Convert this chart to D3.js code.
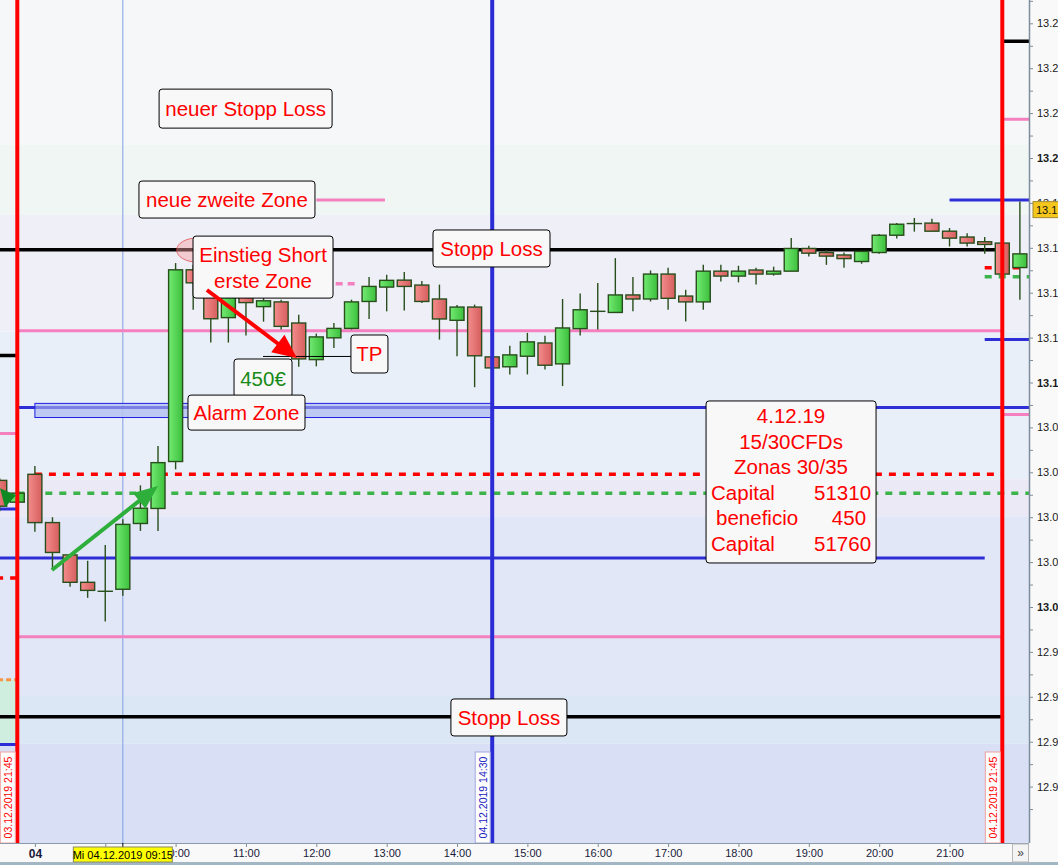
<!DOCTYPE html>
<html><head><meta charset="utf-8">
<script src="https://cdn.jsdelivr.net/npm/d3@7/dist/d3.min.js"></script>
<style>
body{margin:0;background:#fff;overflow:hidden}
svg{display:block;font-family:"Liberation Sans",Arial,sans-serif}
</style></head><body>
<svg id="c" width="1058" height="865"></svg>
<script>
// ---------------- DATA ----------------
// 15-minute candles, index -1 = 03.12 21:30, 0 = 03.12 21:45, 1 = 04.12 08:00 ... 56 = 04.12 21:45, 57 = 22:00
const firstIndex = -1;
const opens  = [13.0564,13.0467,13.0591,13.0376,13.0232,13.0110,13.0070,13.0079,13.0372,13.0439,13.0648,13.1502,13.1400,13.1289,13.1387,13.1338,13.1359,13.1265,13.1102,13.1199,13.1241,13.1361,13.1425,13.1456,13.1434,13.1372,13.1277,13.1336,13.1114,13.1070,13.1117,13.1176,13.1083,13.1240,13.1317,13.1312,13.1390,13.1372,13.1483,13.1385,13.1359,13.1496,13.1474,13.1501,13.1483,13.1496,13.1597,13.1579,13.1568,13.1539,13.1579,13.1656,13.1708,13.1710,13.1674,13.1648,13.1627,13.1621,13.1512];
const highs  = [13.0573,13.0516,13.0628,13.0400,13.0232,13.0206,13.0276,13.0391,13.0542,13.0717,13.1532,13.1524,13.1436,13.1436,13.1418,13.1387,13.1369,13.1302,13.1218,13.1265,13.1369,13.1470,13.1480,13.1492,13.1452,13.1436,13.1345,13.1347,13.1138,13.1164,13.1221,13.1208,13.1372,13.1396,13.1443,13.1554,13.1470,13.1499,13.1511,13.1413,13.1524,13.1524,13.1520,13.1511,13.1516,13.1644,13.1609,13.1591,13.1579,13.1584,13.1662,13.1710,13.1733,13.1729,13.1688,13.1665,13.1648,13.1636,13.1806];
const lows   = [13.0427,13.0458,13.0335,13.0166,13.0090,13.0041,12.9935,13.0050,13.0339,13.0339,13.0613,13.1324,13.1178,13.1178,13.1209,13.1271,13.1236,13.1070,13.1072,13.1154,13.1236,13.1283,13.1317,13.1321,13.1354,13.1191,13.1117,13.0979,13.1049,13.1036,13.1036,13.1058,13.0984,13.1209,13.1236,13.1312,13.1317,13.1361,13.1324,13.1272,13.1324,13.1450,13.1446,13.1436,13.1476,13.1496,13.1561,13.1524,13.1511,13.1529,13.1573,13.1641,13.1672,13.1674,13.1606,13.1606,13.1573,13.1476,13.1369];
const closes = [13.0449,13.0507,13.0376,13.0243,13.0110,13.0074,13.0070,13.0368,13.0440,13.0643,13.1502,13.1444,13.1284,13.1404,13.1356,13.1364,13.1250,13.1105,13.1203,13.1241,13.1359,13.1428,13.1455,13.1428,13.1361,13.1283,13.1336,13.1119,13.1065,13.1123,13.1181,13.1077,13.1243,13.1324,13.1317,13.1390,13.1372,13.1483,13.1375,13.1359,13.1496,13.1474,13.1496,13.1483,13.1496,13.1597,13.1576,13.1563,13.1552,13.1584,13.1656,13.1705,13.1708,13.1674,13.1643,13.1621,13.1615,13.1483,13.1573];
const lastPrice = 13.177;

// time axis
const timeTickIndex  = [1,5,9,13,17,21,25,29,33,37,41,45,49,53];
const timeTickLabels = ["04","09:00","10:00","11:00","12:00","13:00","14:00","15:00","16:00","17:00","18:00","19:00","20:00","21:00"];
const crosshairIndex = 6;
const crosshairLabel = "Mi 04.12.2019 09:15";

// price axis
const priceTicks = [13.26,13.24,13.22,13.20,13.18,13.16,13.14,13.12,13.10,13.08,13.06,13.04,13.02,13.00,12.98,12.96,12.94,12.92];
const priceBold  = [13.20,13.10,13.00];

// background zones (price edges, top to bottom)
const zoneEdges = [13.2058,13.1747,13.1227,13.0569,13.0404,12.9604,12.9391];

// horizontal lines: level, start index, end index, kind
const lineLevels = [13.252,13.2173,13.1813,13.1813,13.1591,13.1511,13.1471,13.1440,13.1231,13.1191,13.1120,13.0889,13.0858,13.0773,13.0591,13.0507,13.0436,13.0218,13.0129,12.9867,12.9676,12.9511,12.9387];
const lineFrom   = [56,56,53,17,-2,55,55,18.1,0,55,-2,0,56,-2,1,0,-2,-2,-2,0,-2,-2,-2];
const lineTo     = [58,58,58,20.9,56,57.3,58,19.4,56,58,0,58,58,0,56,58,0,55,0,56,0,56,0];
const lineKind   = ["black","pink","blue","pink","black","redDash","greenDash","pinkDash","pink","blue","black","blue","pink","pink","redDash","greenDash","blue","blue","redDash","pink","orangeDash","black","blue"];

// vertical markers
const vIndex  = [0,27,56];
const vKind   = ["red","blue","red"];
const vLabels = ["03.12.2019 21:45","04.12.2019 14:30","04.12.2019 21:45"];

// zones
const alarmZone = {from:1, to:27, hi:13.0907, lo:13.0844};
const leftZone  = {from:-2, to:0, hi:12.9676, lo:12.9387};

// annotations: text lines, centre (index, price), box size
const annoText  = [["neuer Stopp Loss"],["neue zweite Zone"],["Einstieg Short","erste Zone"],["Stopp Loss"],["TP"],["450€"],["Alarm Zone"],["Stopp Loss"]];
const annoIdx   = [12.98,11.92,13.97,26.96,20.02,13.97,13.03,27.95];
const annoPrice = [13.2220,13.1815,13.1514,13.1597,13.1127,13.1020,13.0866,12.9508];
const annoW     = [173,176,140,117,37,58,117,116];
const annoH     = [39,37,62,37,38,38,35,37];
const annoGreen = [false,false,false,false,false,true,false,false];

const infoCentre = [43.99,13.0557];
const infoTitle  = ["4.12.19","15/30CFDs","Zonas 30/35"];
const infoRows   = [["Capital","51310"],["beneficio","450"],["Capital","51760"]];

// arrows (index, price)
const redArrow   = [[10.78,13.1412],[15.9,13.1109]];
const greenArrow = [[1.97,13.0165],[8.0,13.0539]];
const tpLine     = [[13.97,13.1116],[18.97,13.1116]];
const entryEllipse = [10.2,13.1590];
const leftArrowHead = [[-0.98,13.0529],[-0.07,13.0498],[-0.7,13.0444]];

// ---------------- LAYOUT / STYLE ----------------
const W=1058, H=865, PR=1029, PB=843;
const zoneColors = ["#f6f7f8","#f0f6f4","#efeff8","#e9eff8","#ebe9f6","#e1e7f6","#dce7f5","#d9e0f6"];
const lineStyle = {
  black:{c:"#000",w:3.5,d:null},
  pink:{c:"#f580c0",w:3,d:null},
  blue:{c:"#2e2ed6",w:3,d:null},
  redDash:{c:"#ff0000",w:3.5,d:"7,7"},
  greenDash:{c:"#3cb44a",w:3.5,d:"7,7"},
  pinkDash:{c:"#f580c0",w:3.5,d:"7,5"},
  orangeDash:{c:"#f79646",w:3,d:"5,3"}
};
const vStyle = {red:{c:"#ff0000",lab:"#ff0000",box:"#f0a0a0"}, blue:{c:"#2c2cd4",lab:"#2020c0",box:"#a0a8e0"}};

const x = d3.scaleLinear().domain([0,56]).range([17.3,1002.3]);
const y = d3.scaleLinear().domain([13.20,13.00]).range([158,607]);

const svg = d3.select("#c");
const defs = svg.append("defs");
defs.append("clipPath").attr("id","plot").append("rect").attr("x",0).attr("y",0).attr("width",PR).attr("height",PB);
function grad(id,c1,c2){const g=defs.append("linearGradient").attr("id",id).attr("x1","0").attr("x2","1").attr("y1","0").attr("y2","0");
 g.append("stop").attr("offset","0").attr("stop-color",c1); g.append("stop").attr("offset","1").attr("stop-color",c2);}
grad("gUp","#72ea72","#3cbf3c");
grad("gDn","#f48c8c","#d65e5e");

const plot = svg.append("g").attr("clip-path","url(#plot)");

// background zones
const zoneBounds = [0, ...zoneEdges.map(p=>y(p)), PB];
plot.selectAll("rect.zone").data(zoneColors).join("rect").attr("class","zone")
  .attr("x",0).attr("width",PR)
  .attr("y",(d,i)=>zoneBounds[i]).attr("height",(d,i)=>zoneBounds[i+1]-zoneBounds[i])
  .attr("fill",d=>d);

// left green zone
plot.append("rect").attr("x",x(leftZone.from)).attr("width",x(leftZone.to)-x(leftZone.from))
  .attr("y",y(leftZone.hi)).attr("height",y(leftZone.lo)-y(leftZone.hi)).attr("fill","#cfeee0");

// crosshair
plot.append("line").attr("x1",x(crosshairIndex)).attr("x2",x(crosshairIndex)).attr("y1",0).attr("y2",PB)
  .attr("stroke","#7f9ee2").attr("stroke-width",1);

// horizontal lines
lineLevels.forEach((p,i)=>{
  const s=lineStyle[lineKind[i]];
  plot.append("line").attr("x1",x(lineFrom[i])).attr("x2",x(lineTo[i])).attr("y1",y(p)).attr("y2",y(p))
    .attr("stroke",s.c).attr("stroke-width",s.w).attr("stroke-dasharray",s.d);
});

// alarm zone rectangle
plot.append("rect").attr("x",x(alarmZone.from)).attr("width",x(alarmZone.to)-x(alarmZone.from))
  .attr("y",y(alarmZone.hi)).attr("height",y(alarmZone.lo)-y(alarmZone.hi))
  .attr("fill","#b6c2f2").attr("fill-opacity",0.85).attr("stroke","#1e1ee6").attr("stroke-width",1);
plot.append("line").attr("x1",x(0)).attr("x2",x(58)).attr("y1",y(13.0889)).attr("y2",y(13.0889))
  .attr("stroke","#2e2ed6").attr("stroke-width",3).attr("opacity",0.35);

// candles
const candles = opens.map((o,i)=>({i:i+firstIndex,o,h:highs[i],l:lows[i],c:closes[i]}));
const cg = plot.append("g");
cg.selectAll("line.wick").data(candles).join("line")
  .attr("x1",d=>x(d.i)).attr("x2",d=>x(d.i)).attr("y1",d=>y(d.h)).attr("y2",d=>y(d.l))
  .attr("stroke","#284e1c").attr("stroke-width",1.4);
cg.selectAll("rect.body").data(candles).join("rect")
  .attr("x",d=>x(d.i)-7).attr("width",14)
  .attr("y",d=>y(Math.max(d.o,d.c))).attr("height",d=>Math.max(0.01,Math.abs(y(d.o)-y(d.c))))
  .attr("fill",d=>d.c>d.o?"url(#gUp)":(d.c<d.o?"url(#gDn)":"#284e1c"))
  .attr("stroke","#284e1c").attr("stroke-width",1.4);

// vertical lines
vIndex.forEach((v,i)=>{
  const s=vStyle[vKind[i]];
  plot.append("line").attr("x1",x(v)).attr("x2",x(v)).attr("y1",0).attr("y2",PB)
    .attr("stroke",s.c).attr("stroke-width",4);
  const bx = x(v)-17;
  plot.append("rect").attr("x",bx).attr("y",752).attr("width",15).attr("height",PB-752)
    .attr("fill","#fdfdfd").attr("stroke",s.box).attr("stroke-width",1);
  plot.append("text").attr("transform",`translate(${bx+7.5},${797.5}) rotate(-90)`)
    .attr("text-anchor","middle").attr("dominant-baseline","central")
    .attr("font-size",10.5).attr("fill",s.lab).text(vLabels[i]);
});

// left arrowhead
plot.append("polygon").attr("points",leftArrowHead.map(d=>[x(d[0]),y(d[1])].join(",")).join(" "))
  .attr("fill","#0f8a22");

// ellipse
plot.append("ellipse").attr("cx",x(entryEllipse[0])).attr("cy",y(entryEllipse[1])).attr("rx",20).attr("ry",12)
  .attr("fill","#f4a0a0").attr("fill-opacity",0.45).attr("stroke","#e04040").attr("stroke-opacity",0.7);

// arrows
function arrow(pts,color,hl,hw){
  const [a,b]=pts.map(d=>[x(d[0]),y(d[1])]);
  const dx=b[0]-a[0], dy=b[1]-a[1], L=Math.hypot(dx,dy), ux=dx/L, uy=dy/L;
  const bx=b[0]-ux*hl, by=b[1]-uy*hl;
  plot.append("line").attr("x1",a[0]).attr("y1",a[1]).attr("x2",bx+ux*2).attr("y2",by+uy*2)
    .attr("stroke",color).attr("stroke-width",4);
  plot.append("polygon").attr("points",[[b[0],b[1]],[bx-uy*hw/2,by+ux*hw/2],[bx+uy*hw/2,by-ux*hw/2]].map(p=>p.join(",")).join(" "))
    .attr("fill",color);
}
arrow(greenArrow,"#2eae3a",24,20);

// TP line
plot.append("line").attr("x1",x(tpLine[0][0])).attr("x2",x(tpLine[1][0])).attr("y1",y(tpLine[0][1])).attr("y2",y(tpLine[1][1]))
  .attr("stroke","#000").attr("stroke-width",1);

// annotation boxes
function box(cx,cy,w,h){
  return plot.append("rect").attr("x",cx-w/2).attr("y",cy-h/2).attr("width",w).attr("height",h)
    .attr("rx",3).attr("fill","#f8f8f8").attr("stroke","#000").attr("stroke-width",1);
}
annoText.forEach((lines,i)=>{
  const cx=x(annoIdx[i]), cy=y(annoPrice[i]);
  box(cx,cy,annoW[i],annoH[i]);
  const n=lines.length, step=26;
  lines.forEach((t,j)=>{
    plot.append("text").attr("x",cx).attr("y",cy+(j-(n-1)/2)*step)
      .attr("text-anchor","middle").attr("dominant-baseline","central")
      .attr("font-size",20.5).attr("fill",annoGreen[i]?"#178a17":"#ff0000").text(t);
  });
});
arrow(redArrow,"#ff0000",24,22);

// info box
{
  const cx=x(infoCentre[0]), cy=y(infoCentre[1]), w=170, h=162;
  box(cx,cy,w,h);
  const top=cy-h/2+15, step=25.5;
  infoTitle.forEach((t,j)=>plot.append("text").attr("x",cx).attr("y",top+j*step)
    .attr("text-anchor","middle").attr("dominant-baseline","central").attr("font-size",20.5).attr("fill","#ff0000").text(t));
  infoRows.forEach((r,j)=>{
    const yy=top+(j+3)*step, inset = j===1?10:5;
    plot.append("text").attr("x",cx-w/2+inset).attr("y",yy).attr("dominant-baseline","central")
      .attr("font-size",20.5).attr("fill","#ff0000").text(r[0]);
    plot.append("text").attr("x",cx+w/2-inset).attr("y",yy).attr("text-anchor","end").attr("dominant-baseline","central")
      .attr("font-size",20.5).attr("fill","#ff0000").text(r[1]);
  });
}

// ---------------- AXES ----------------
// right price axis
svg.append("rect").attr("x",PR).attr("y",0).attr("width",W-PR).attr("height",PB).attr("fill","#f9f9f9");
const minor = d3.pairs(priceTicks).map(([a,b])=>(a+b)/2).concat([13.27,12.91]);
const ra = svg.append("g").attr("transform",`translate(${PR},0)`)
  .call(d3.axisRight(y).tickValues(priceTicks.concat(minor)).tickSize(4).tickPadding(4)
    .tickFormat(d=>priceTicks.some(p=>Math.abs(p-d)<1e-6)?d3.format(".2f")(d):""));
ra.select(".domain").remove();
ra.selectAll(".tick line").attr("stroke","#7d8d9c");
ra.selectAll(".tick text").attr("font-size",11).attr("fill","#1a1a1a")
  .attr("font-family","'Liberation Sans',Arial,sans-serif")
  .attr("font-weight",d=>priceBold.some(p=>Math.abs(p-d)<1e-6)?"bold":"normal");
svg.append("line").attr("x1",PR+0.5).attr("x2",PR+0.5).attr("y1",0).attr("y2",PB).attr("stroke","#7d8d9c").attr("stroke-width",1.5);
// current price label
svg.append("rect").attr("x",PR+4).attr("y",y(lastPrice)-8).attr("width",40).attr("height",16)
  .attr("fill","#f5c61c").attr("stroke","#a08a30");
svg.append("text").attr("x",PR+7).attr("y",y(lastPrice)).attr("dominant-baseline","central")
  .attr("font-size",11).attr("fill","#111").text(d3.format(".3f")(lastPrice));

// bottom time axis
svg.append("rect").attr("x",0).attr("y",PB).attr("width",W).attr("height",H-PB).attr("fill","#f9f9f9");
const ta = svg.append("g").attr("transform",`translate(0,${PB})`)
  .call(d3.axisBottom(x).tickValues(timeTickIndex).tickSize(4).tickPadding(2)
    .tickFormat((d,i)=>timeTickLabels[i]));
ta.select(".domain").remove();
ta.selectAll(".tick line").attr("stroke","#7d8d9c");
ta.selectAll(".tick text").attr("font-size",11).attr("fill","#1a1a3a")
  .attr("font-family","'Liberation Sans',Arial,sans-serif")
  .attr("font-weight",(d,i)=>i===0?"bold":"normal").attr("font-size",(d,i)=>i===0?12:11);
svg.append("line").attr("x1",0).attr("x2",PR).attr("y1",PB+0.5).attr("y2",PB+0.5).attr("stroke","#8a9aa8");
svg.append("rect").attr("x",0).attr("y",H-3).attr("width",W).attr("height",3).attr("fill","#a2b6c4");
// crosshair time label
{
  const cx=x(crosshairIndex);
  svg.append("line").attr("x1",cx).attr("x2",cx).attr("y1",PB).attr("y2",PB+4).attr("stroke","#000");
  svg.append("rect").attr("x",cx-49.5).attr("y",PB+4).attr("width",99).attr("height",15)
    .attr("fill","#ffff00").attr("stroke","#8a8a60");
  svg.append("text").attr("x",cx).attr("y",PB+11.5).attr("text-anchor","middle").attr("dominant-baseline","central")
    .attr("font-size",11).attr("fill","#000").text(crosshairLabel);
}
// scroll button
svg.append("rect").attr("x",1012.5).attr("y",PB+1).attr("width",16).attr("height",18).attr("fill","#f4f4f4").attr("stroke","#b8b8b8");
svg.append("text").attr("x",1020.5).attr("y",PB+10).attr("text-anchor","middle").attr("dominant-baseline","central")
  .attr("font-size",12).attr("fill","#444").text("»");
</script>
</body></html>
